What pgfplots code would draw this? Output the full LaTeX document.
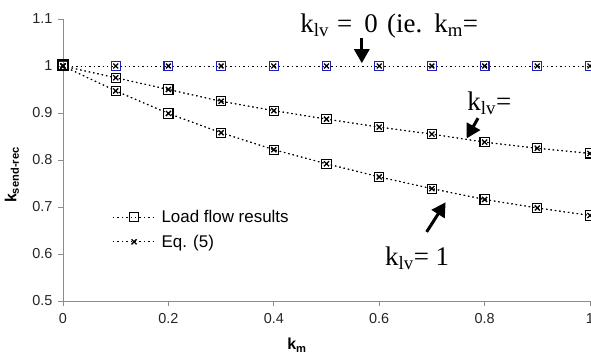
\documentclass[border=0pt]{standalone}
\usepackage{pgfplots}
\pgfplotsset{compat=1.18}
\usepackage{fontspec}
\setmainfont{Liberation Sans}
\newfontfamily\timesfont{Liberation Serif}
\usetikzlibrary{arrows.meta}
\definecolor{axgray}{RGB}{140,140,140}
\definecolor{mblue}{RGB}{30,30,190}
\begin{document}
\begin{tikzpicture}
\begin{axis}[
  scale only axis, width=527bp, height=282bp,
  xmin=0, xmax=1, ymin=0.5, ymax=1.1,
  axis x line=bottom, axis y line=left, axis line style={-, draw=axgray, line width=0.8pt},
  xtick={0,0.2,0.4,0.6,0.8,1}, ytick={0.5,0.6,0.7,0.8,0.9,1,1.1},
  xticklabels={0,0.2,0.4,0.6,0.8,1},
  yticklabels={0.5,0.6,0.7,0.8,0.9,1,1.1},
  tick align=outside, major tick length=5bp,
  tick style={draw=axgray, line width=0.8pt},
  ticklabel style={font=\fontsize{14.5}{16}\selectfont, text=black!85},
  xticklabel style={yshift=-4bp},
  yticklabel style={xshift=-2bp},
  /pgf/number format/assume math mode=true,
  xlabel={\textbf{k\textsubscript{m}}},
  ylabel={\textbf{k\textsubscript{send-rec}}},
  label style={font=\fontsize{16}{18}\selectfont},
  xlabel style={at={(axis description cs:0.444,-0.156)}, anchor=center},
  ylabel style={at={(axis description cs:-0.097,0.447)}, anchor=center},
  legend style={draw=none, fill=none, at={(axis description cs:0.088,0.337)}, anchor=north west,
    font=\fontsize{17}{19}\selectfont, row sep=7bp, legend cell align=left,
    /tikz/every odd column/.append style={column sep=6bp}},
  legend image code/.code={
    \draw[#1, mark=none] (0bp,0bp) -- (40bp,0bp);
    \draw[#1, only marks] plot coordinates {(21bp,0bp)};
  },
  clip=false,
  every axis plot/.append style={line width=1pt, dash pattern=on 1.4bp off 3bp},
]
% Middle curve
\addplot[black, mark=square, mark size=4.6bp, mark options={solid, line width=1.1pt}]
coordinates {(0,1.0) (0.1,0.975) (0.2,0.950) (0.3,0.925) (0.4,0.905) (0.5,0.887) (0.6,0.870) (0.7,0.855) (0.8,0.838) (0.9,0.825) (1.0,0.814)};
\addlegendentry{Load flow results}
\addplot[black, mark=x, mark size=3.6bp, mark options={solid, line width=1.3pt}]
coordinates {(0,1.0) (0.1,0.975) (0.2,0.950) (0.3,0.925) (0.4,0.905) (0.5,0.887) (0.6,0.870) (0.7,0.855) (0.8,0.838) (0.9,0.825) (1.0,0.814)};
\addlegendentry{Eq. (5)}
% Lower curve
\addplot[forget plot, black, mark=square, mark size=4.6bp, mark options={solid, line width=1.1pt}]
coordinates {(0,1.0) (0.1,0.947) (0.2,0.899) (0.3,0.858) (0.4,0.822) (0.5,0.792) (0.6,0.764) (0.7,0.739) (0.8,0.716) (0.9,0.698) (1.0,0.682)};
\addplot[forget plot, black, mark=x, mark size=3.6bp, mark options={solid, line width=1.3pt}]
coordinates {(0,1.0) (0.1,0.947) (0.2,0.899) (0.3,0.858) (0.4,0.822) (0.5,0.792) (0.6,0.764) (0.7,0.739) (0.8,0.716) (0.9,0.698) (1.0,0.682)};
% Top curve
\addplot[forget plot, black, mark=square, mark size=4.4bp, mark options={solid, draw=mblue, line width=1.1pt}]
coordinates {(0,1.0) (0.1,1.0) (0.2,1.0) (0.3,1.0) (0.4,1.0) (0.5,1.0) (0.6,1.0) (0.7,1.0) (0.8,1.0) (0.9,1.0) (1.0,1.0)};
\addplot[forget plot, black, mark=x, mark size=3.4bp, mark options={solid, line width=1.3pt}]
coordinates {(0,1.0) (0.1,1.0) (0.2,1.0) (0.3,1.0) (0.4,1.0) (0.5,1.0) (0.6,1.0) (0.7,1.0) (0.8,1.0) (0.9,1.0) (1.0,1.0)};
\addplot[forget plot, black, mark=square, mark size=4.9bp, only marks, mark options={solid, line width=1.5pt}]
coordinates {(0,1.002)};
% Annotations
\node[anchor=base west, inner sep=0pt, font=\timesfont\fontsize{27}{30}\selectfont] at (axis cs:0.450,1.0717) {k\textsubscript{lv}\hspace{0.3em}=\hspace{0.45em}0\hspace{0.35em}(ie.\hspace{0.45em}k\textsubscript{m}=};
\node[anchor=base west, inner sep=0pt, font=\timesfont\fontsize{27}{30}\selectfont] at (axis cs:0.767,0.906) {k\textsubscript{lv}=};
\node[anchor=base west, inner sep=0pt, font=\timesfont\fontsize{27}{30}\selectfont] at (axis cs:0.611,0.576) {k\textsubscript{lv}= 1};
\draw[line width=3bp, solid, -{Triangle[length=14bp,width=15bp]}] (axis cs:0.567,1.059) -- (axis cs:0.567,1.006);
\draw[line width=3bp, solid, -{Triangle[length=14bp,width=15bp]}] (axis cs:0.7875,0.889) -- (axis cs:0.766,0.846);
\draw[line width=3bp, solid, -{Triangle[length=14bp,width=15bp]}] (axis cs:0.690,0.647) -- (axis cs:0.726,0.710);
\end{axis}
\pgfresetboundingbox
\path[use as bounding box] (-63bp,-62bp) rectangle (528bp,301bp);
\end{tikzpicture}
\end{document}
